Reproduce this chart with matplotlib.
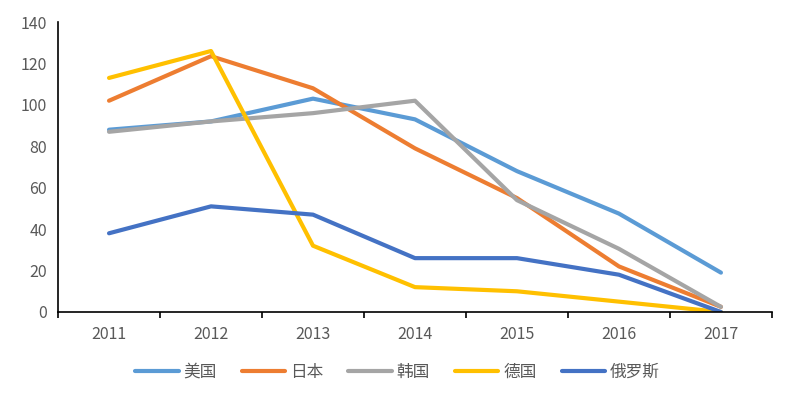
import matplotlib.pyplot as plt
import numpy as np

plt.rcParams['font.family'] = ['Noto Sans CJK SC', 'DejaVu Sans']

years = ['2011', '2012', '2013', '2014', '2015', '2016', '2017']
usa = [88, 92, 103, 93, 68, 47.5, 19]
japan = [102, 123.5, 108, 79, 55, 22, 2.5]
korea = [87, 92, 96, 102, 54, 30.5, 2.5]
germany = [113, 126, 32, 12, 10, 5, 0]
russia = [38, 51, 47, 26, 26, 18, 0]

series = [
    ('美国', usa, '#5B9BD5'),
    ('日本', japan, '#ED7D31'),
    ('韩国', korea, '#A5A5A5'),
    ('德国', germany, '#FFC000'),
    ('俄罗斯', russia, '#4472C4'),
]

fig = plt.figure(figsize=(7.95, 4.0), dpi=100)
ax = fig.add_axes([0.073, 0.22, 0.898, 0.725])

x = np.arange(len(years))
for name, vals, color in series:
    ax.plot(x, vals, color=color, linewidth=3, label=name, solid_capstyle='round',
            solid_joinstyle='round')

ax.set_xlim(-0.5, len(years) - 0.5)
ax.set_ylim(0, 140)
ax.set_yticks(range(0, 141, 20))
ax.set_xticks(x)
ax.set_xticklabels(years)
ax.set_xticks(np.arange(-0.5, len(years), 1), minor=True)

for side in ['top', 'right']:
    ax.spines[side].set_visible(False)
for side in ['left', 'bottom']:
    ax.spines[side].set_color('black')
    ax.spines[side].set_linewidth(1.2)

ax.tick_params(axis='y', length=0, labelsize=11.5, labelcolor='#595959', pad=8)
ax.tick_params(axis='x', which='major', length=0, labelsize=11.5, labelcolor='#595959', pad=10)
ax.tick_params(axis='x', which='minor', length=4, width=1.2, color='black', direction='out')

fig.legend(loc='center', bbox_to_anchor=(0.5, 0.07), ncol=5, frameon=False,
           fontsize=12, labelcolor='#595959', handlelength=2.6, columnspacing=1.5,
           handletextpad=0.3)

fig.savefig('out.png', dpi=100)
